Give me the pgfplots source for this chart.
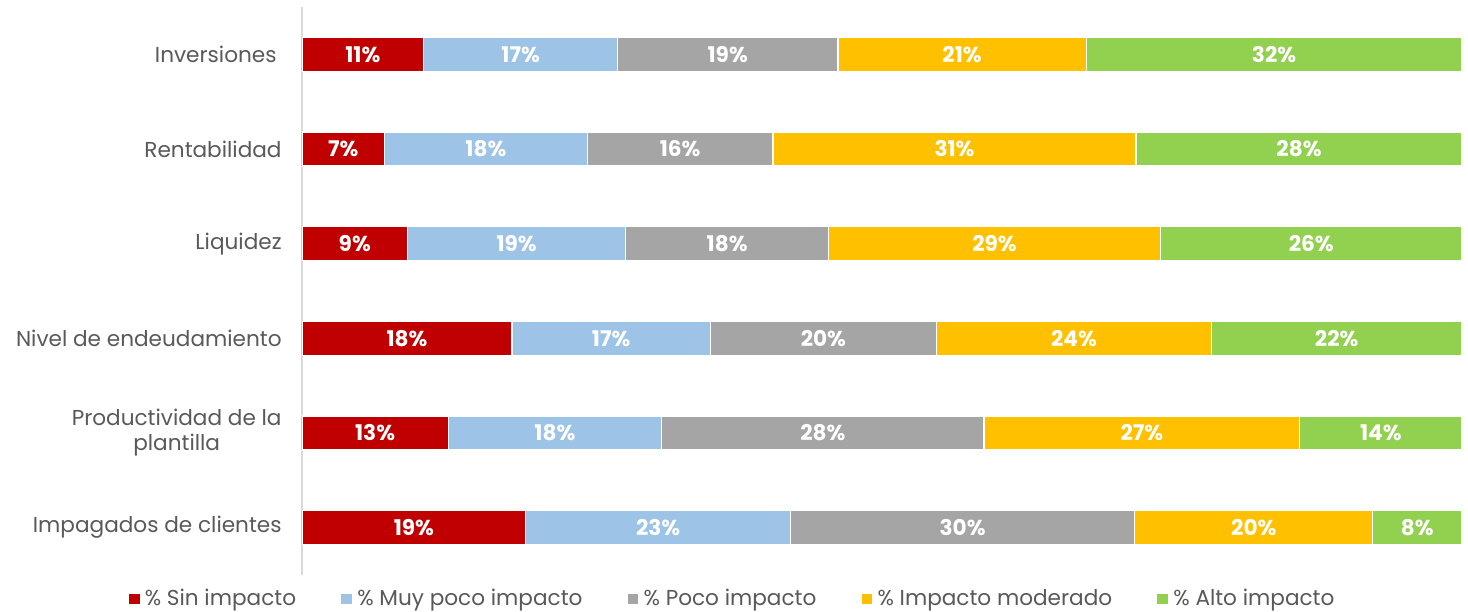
\documentclass[border=0pt]{standalone}
\usepackage{pgfplots}
\pgfplotsset{compat=1.18}
\usepackage{fontspec}
\setmainfont{Poppins}
\definecolor{cSin}{HTML}{C00000}
\definecolor{cMuy}{HTML}{9DC3E6}
\definecolor{cPoco}{HTML}{A5A5A5}
\definecolor{cMod}{HTML}{FFC000}
\definecolor{cAlto}{HTML}{92D050}
\definecolor{txt}{HTML}{595959}
% segment ends (cumulative %), rows top to bottom
\pgfplotsset{seg/.style={xbar, bar shift=0pt, bar width=17bp, draw=white, line width=0.6bp, fill=#1}}
\begin{document}
\begin{tikzpicture}
\begin{axis}[
  scale only axis,
  width=580bp, height=284bp,
  xmin=0, xmax=100,
  ymin=-0.5, ymax=5.5,
  y dir=reverse,
  axis x line=none,
  axis y line=left,
  y axis line style={draw=black!15, line width=1bp, -},
  ytick={0,...,5},
  yticklabels={Inversiones\hspace{2.5bp},Rentabilidad,Liquidez,Nivel de endeudamiento,Productividad de la\\plantilla,Impagados de clientes},
  major tick length=0pt,
  yticklabel style={font=\fontsize{10.8bp}{12.5bp}\selectfont, text=txt, align=center, inner sep=0pt, xshift=-10bp},
  legend columns=5,
  reverse legend,
  legend style={draw=none, at={(0.5,0)}, anchor=center, xshift=-74.5bp, yshift=-12bp, font=\fontsize{10.8bp}{12.5bp}\selectfont, text=txt, inner sep=0pt,
    /tikz/every even column/.append style={column sep=20bp}},
  legend image code/.code={\fill[#1] (0bp,-3bp) rectangle (6bp,3bp);},
]
\addplot[seg=cAlto] coordinates {(100,0) (100,1) (100,2) (100,3) (100,4) (100,5)};
\addplot[seg=cMod] coordinates {(67.6,0) (71.9,1) (74.0,2) (78.4,3) (86.0,4) (92.3,5)};
\addplot[seg=cPoco] coordinates {(46.2,0) (40.6,1) (45.4,2) (54.7,3) (58.8,4) (71.8,5)};
\addplot[seg=cMuy] coordinates {(27.2,0) (24.6,1) (27.9,2) (35.2,3) (31.0,4) (42.1,5)};
\addplot[seg=cSin] coordinates {(10.5,0) (7.1,1) (9.1,2) (18.1,3) (12.6,4) (19.3,5)};
\legend{\% Alto impacto,\% Impacto moderado,\% Poco impacto,\% Muy poco impacto,\% Sin impacto}
% value labels at segment centres
\addplot[only marks, mark=none, forget plot, point meta=explicit symbolic,
  nodes near coords={\pgfplotspointmeta\%},
  nodes near coords style={anchor=center, text=white, font=\bfseries\fontsize{10.8bp}{12.5bp}\selectfont}]
  coordinates {
  (5.25,0) [11] (18.85,0) [17] (36.7,0) [19] (56.9,0) [21] (83.8,0) [32]
  (3.55,1) [7] (15.85,1) [18] (32.6,1) [16] (56.25,1) [31] (85.95,1) [28]
  (4.55,2) [9] (18.5,2) [19] (36.65,2) [18] (59.7,2) [29] (87.0,2) [26]
  (9.05,3) [18] (26.65,3) [17] (44.95,3) [20] (66.55,3) [24] (89.2,3) [22]
  (6.3,4) [13] (21.8,4) [18] (44.9,4) [28] (72.4,4) [27] (93.0,4) [14]
  (9.65,5) [19] (30.7,5) [23] (56.95,5) [30] (82.05,5) [20] (96.15,5) [8]
  };
\end{axis}
\pgfresetboundingbox
\path[use as bounding box] ([shift={(-151bp,-18.5bp)}]current axis.south west) rectangle ([shift={(3bp,3.5bp)}]current axis.north east);
\end{tikzpicture}
\end{document}
